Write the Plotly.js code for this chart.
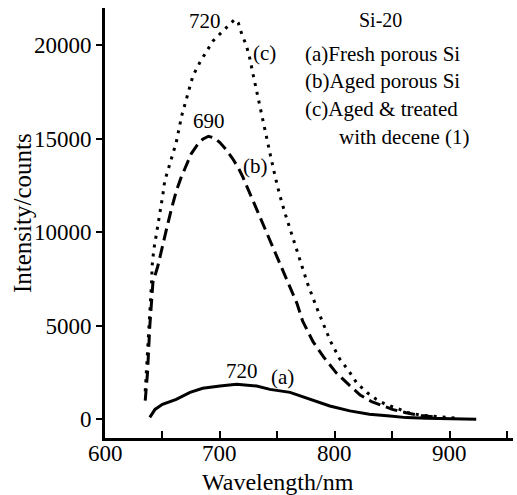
<!DOCTYPE html>
<html>
<head>
<meta charset="utf-8">
<script src="https://cdn.plot.ly/plotly-3.0.1.min.js"></script>
<style>html,body{margin:0;padding:0;background:#fff;}#chart{width:517px;height:495px;}</style>
</head>
<body>
<div id="chart"></div>
<script>
// Wavelength (nm) and intensity (counts)
var wavelengthA = [639, 643.5, 650, 662, 674, 685, 700, 714.5, 732, 743.5, 761, 778, 795.6, 813, 830, 848, 862, 880, 900, 923];
var intensityA  = [100, 530, 800, 1070, 1440, 1660, 1780, 1870, 1780, 1600, 1440, 1070, 710, 450, 270, 180, 90, 50, 20, 0];

var wavelengthB = [635, 637, 639, 641.7, 646, 650, 654, 658, 662, 666, 671, 675, 680, 685, 690, 695, 700, 705, 711, 716, 720, 726, 732, 739, 744, 749, 755, 760, 767, 772, 781, 790, 801, 813, 822, 832, 850, 862, 875, 890];
var intensityB  = [1000, 2500, 5000, 7330, 8200, 9300, 10300, 11300, 12200, 12900, 13600, 14200, 14650, 14980, 15140, 15050, 14800, 14450, 13950, 13450, 12950, 12100, 11200, 10250, 9550, 8800, 7950, 7200, 6200, 5250, 4150, 3350, 2500, 1800, 1300, 950, 530, 350, 200, 100];

var wavelengthC = [635, 637, 639, 640.6, 641, 642.5, 645, 647.8, 650.4, 652, 656.5, 659, 662, 666.7, 671, 676.5, 682.6, 688.4, 694, 701.5, 708.7, 713, 716, 719, 723, 726, 729, 732, 736, 740, 744, 748, 752, 757, 762, 768, 772, 776, 784, 790, 796, 804, 812, 819, 828, 836, 844, 854, 862, 875, 890, 905];
var intensityC  = [1500, 3500, 6000, 7400, 8200, 9100, 10000, 10970, 12040, 12750, 13640, 14180, 14820, 16230, 17120, 18370, 19100, 19700, 20240, 20700, 21130, 21400, 21200, 20600, 20000, 19300, 18400, 17500, 16400, 15300, 14100, 13000, 12000, 10950, 10000, 8900, 8100, 7300, 6000, 5100, 4200, 3250, 2600, 1950, 1430, 1070, 800, 600, 380, 220, 120, 60];

var xTicks = [600, 700, 800, 900];
var yTicks = [0, 5000, 10000, 15000, 20000];

var legendLines = ["Si-20", "(a)Fresh porous Si", "(b)Aged porous Si", "(c)Aged &amp; treated", "with decene (1)"];

var FONT = "Liberation Serif, Times New Roman, serif";

var traces = [
  {x: wavelengthA, y: intensityA, mode: "lines", line: {color: "#000", width: 3}},
  {x: wavelengthB, y: intensityB, mode: "lines", line: {color: "#000", width: 3, dash: "12px,6px"}},
  {x: wavelengthC, y: intensityC, mode: "lines", line: {color: "#000", width: 3, dash: "3px,6px"}}
];

// pixel -> paper helpers for text placement
var L = 105, R = 4, T = 8, B = 57, W = 517, H = 495;
function pxX(p) { return (p - L) / (W - L - R); }
function pxY(p) { return (H - B - p) / (H - T - B); }

var ann = [];
function addText(text, x, y, size, xanchor, extra) {
  var a = {text: text, xref: "paper", yref: "paper", x: pxX(x), y: pxY(y), showarrow: false,
           xanchor: xanchor || "center", yanchor: "middle", font: {family: FONT, size: size, color: "#000"}};
  if (extra) for (var k in extra) a[k] = extra[k];
  ann.push(a);
}
addText("720", 205, 21, 21);
addText("(c)", 264, 53, 21);
addText("690", 209, 121, 21);
addText("(b)", 255, 166, 21);
addText("720", 242, 371, 21);
addText("(a)", 282, 377, 21);

addText(legendLines[0], 380, 20, 20);
addText(legendLines[1], 303, 54, 21, "left");
addText(legendLines[2], 303, 81, 21, "left");
addText(legendLines[3], 303, 109, 21, "left");
addText(legendLines[4], 337, 137, 21, "left");

addText("Wavelength/nm", 278, 482, 24);
addText("Intensity/counts", 23, 213, 25, "center", {textangle: -90});

// x tick labels sit close under the axis line
xTicks.forEach(function (v) {
  ann.push({text: String(v), xref: "x", yref: "paper", x: v, y: pxY(454), showarrow: false,
            xanchor: "center", yanchor: "middle", font: {family: FONT, size: 23, color: "#000"}});
});

var layout = {
  width: W, height: H,
  margin: {l: L, r: R, t: T, b: B, pad: 0},
  paper_bgcolor: "#fff", plot_bgcolor: "#fff",
  showlegend: false,
  font: {family: FONT, color: "#000"},
  xaxis: {
    range: [600, 955], showgrid: false, zeroline: false,
    showline: true, linecolor: "#000", linewidth: 3,
    tickmode: "array", tickvals: xTicks, showticklabels: false,
    ticks: "inside", ticklen: 7, tickwidth: 2, tickcolor: "#000",
    minor: {dtick: 50, tick0: 650, ticks: "inside", ticklen: 7, tickwidth: 2, tickcolor: "#000", showgrid: false}
  },
  yaxis: {
    range: [-1000, 22000], showgrid: false, zeroline: false,
    showline: true, linecolor: "#000", linewidth: 3,
    tickmode: "array", tickvals: yTicks, ticktext: yTicks.map(String),
    ticks: "outside", ticklen: 6, tickwidth: 2, tickcolor: "#000",
    tickfont: {family: FONT, size: 23, color: "#000"}
  },
  annotations: ann
};

Plotly.newPlot("chart", traces, layout, {displayModeBar: false, staticPlot: true});
</script>
</body>
</html>
